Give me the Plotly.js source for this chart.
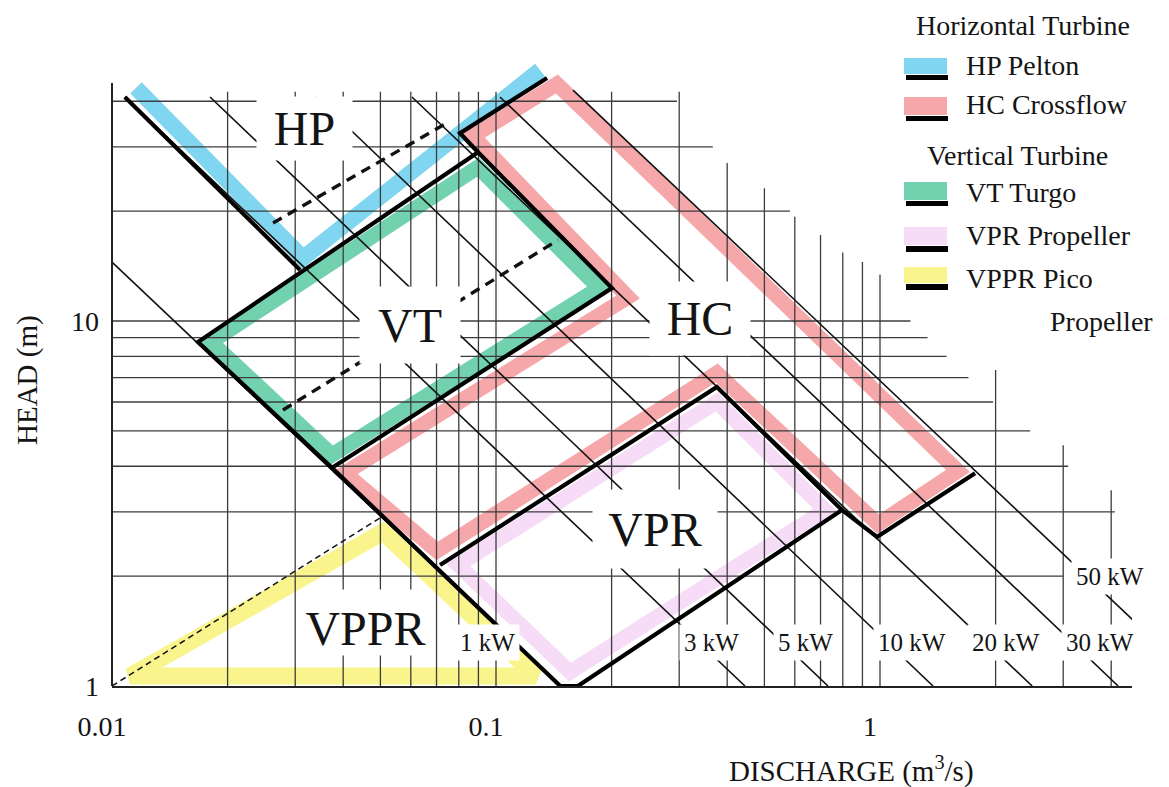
<!DOCTYPE html>
<html>
<head>
<meta charset="utf-8">
<script src="https://cdn.plot.ly/plotly-3.0.1.min.js"></script>
<style>
html,body{margin:0;padding:0;background:#fff;}
#chart{width:1169px;height:787px;}
</style>
</head>
<body>
<div id="chart"></div>
<script>
// ================= DATA =================
// Discharge Q in m3/s (x, log), head H in m (y, log)
const X_TICKS = [0.01, 0.1, 1];
const X_TICK_TEXT = ['0.01', '0.1', '1'];
const Y_TICKS = [1, 10];
const Y_TICK_TEXT = ['1', '10'];

// staircase grid: horizontal lines (head) and where each ends on the right
const GRID_H       = [2, 3, 4, 5, 6, 7, 8, 9, 10, 20, 30, 40];
const GRID_H_END_Q = [3.0, 4.09, 3.09, 2.46, 1.97, 1.70, 1.49, 1.33, 1.20, 0.583, 0.367, 0.296];
// vertical lines (discharge) and where each starts at the top
const GRID_Q       = [0.02, 0.03, 0.04, 0.05, 0.06, 0.07, 0.08, 0.09, 0.1, 0.2, 0.3, 0.4, 0.5, 0.6, 0.7, 0.8, 0.9, 1, 2, 3, 4];
const GRID_Q_TOP_H = [42.5, 42.5, 42.5, 42.5, 42.5, 42.5, 42.5, 42.5, 42.5, 42.5, 42.5, 27.1, 23.1, 19.3, 17.2, 15.4, 14.5, 13.4, 7.34, 4.57, 3.44];

// constant power lines
const POWER_KW      = [1, 3, 5, 10, 20, 30, 50];
const POWER_Q_START = [0.01, 0.0108, 0.018, 0.034, 0.0604, 0.1024, 0.1587];
const POWER_H_START = [14.5, 41.1, 41.1, 41.1, 41.1, 41.1, 42.9];
const POWER_Q_END   = [0.147, 0.445, 0.732, 1.374, 2.49, 4.17, 4.70];
const POWER_H_END   = [1, 1, 1, 1, 1, 1, 1.47];
const KW_LABEL_Q    = [0.0953, 0.365, 0.638, 1.212, 2.128, 3.74, 3.972];
const KW_LABEL_H    = [1.312, 1.312, 1.312, 1.312, 1.312, 1.312, 2.0];

// coloured bands (centre lines) of each turbine range
const HP_BAND_Q   = [0.01155, 0.03144, 0.1302];
const HP_BAND_H   = [43.5, 14.88, 48.7];
const VT_BAND_Q   = [0.01811, 0.0898, 0.1854, 0.0374];
const VT_BAND_H   = [8.76, 26.4, 12.31, 4.295];
const HC_BAND_Q   = [0.0404, 0.2207, 0.0871, 0.1441, 1.596, 0.988, 0.376, 0.0702];
const HC_BAND_H   = [3.833, 11.63, 32.1, 44.6, 3.882, 2.779, 7.203, 2.344];
const VPR_BAND_Q  = [0.0796, 0.376, 0.719, 0.1559];
const VPR_BAND_H  = [2.145, 6.00, 3.035, 1.092];
const VPPR_BAND_Q = [0.01114, 0.0508, 0.127];
const VPPR_BAND_H = [1.065, 2.642, 1.065];

// black boundary lines
const HP_EDGE_Q  = [0.0108, 0.0309];
const HP_EDGE_H  = [41.1, 13.8];
const VT_EDGE_Q  = [0.0374, 0.01675, 0.0898, 0.2004, 0.0374, 0.147];
const VT_EDGE_H  = [3.96, 8.76, 29.0, 12.31, 3.96, 1];
const HC_EDGE_Q  = [0.0898, 0.0806, 0.1358];
const HC_EDGE_H  = [29.0, 32.7, 46.3];
const HC_EDGE2_Q = [1.768, 0.982, 0.796, 0.376, 0.0715];
const HC_EDGE2_H = [3.83, 2.56, 3.035, 6.595, 2.145];
const VPR_EDGE_Q = [0.796, 0.1634, 0.147];
const VPR_EDGE_H = [3.035, 1, 1];

// dashed lines
const HP_DASH_Q   = [0.02626, 0.0745];
const HP_DASH_H   = [18.56, 34.9];
const VT_DASH_Q   = [0.02788, 0.145];
const VT_DASH_H   = [5.704, 16.67];
const VPPR_DASH_Q = [0.01, 0.0508];
const VPPR_DASH_H = [1, 2.923];

const AXIS_Q_MIN = 0.01, AXIS_H_MIN = 1;

// ================= STYLE / LAYOUT =================
const FONT = 'Liberation Serif, Times New Roman, serif';
const TXT = '#141414';
const C_HP = '#80d6f0', C_HC = '#f5a7a9', C_VT = '#72d1ae', C_VPR = '#f6dcf6', C_VPPR = '#f9f48c';
const W = 1169, H = 787, PL = 112, PR = 1132, PT = 55, PB = 686;
const pxX = x => (x - PL) / (PR - PL);
const pxY = y => (PB - y) / (PB - PT);
const L10 = Math.log10;

function closed(q, h) { return {x: q.concat([q[0], q[1]]), y: h.concat([h[0], h[1]])}; }
function band(q, h, color, width, close) {
  const p = close ? closed(q, h) : {x: q, y: h};
  return {type: 'scatter', mode: 'lines', x: p.x, y: p.y, hoverinfo: 'skip',
          line: {color: color, width: width}};
}
function segs(list) {
  const x = [], y = [];
  list.forEach(s => { x.push(...s[0], null); y.push(...s[1], null); });
  return {x, y};
}

const traces = [];
// bands
traces.push(band(HP_BAND_Q, HP_BAND_H, C_HP, 16, false));
traces.push(band(HC_BAND_Q, HC_BAND_H, C_HC, 15, true));
traces.push(band(VT_BAND_Q, VT_BAND_H, C_VT, 15, true));
traces.push(band(VPR_BAND_Q, VPR_BAND_H, C_VPR, 15, true));
traces.push(band(VPPR_BAND_Q, VPPR_BAND_H, C_VPPR, 17, true));

// grid
const gridSegs = [];
GRID_H.forEach((h, i) => gridSegs.push([[AXIS_Q_MIN, GRID_H_END_Q[i]], [h, h]]));
GRID_Q.forEach((q, i) => gridSegs.push([[q, q], [AXIS_H_MIN, GRID_Q_TOP_H[i]]]));
const g = segs(gridSegs);
traces.push({type: 'scatter', mode: 'lines', x: g.x, y: g.y, hoverinfo: 'skip',
             line: {color: '#3c3c3c', width: 1.3}});

// power lines
const powSegs = POWER_KW.map((kw, i) => [[POWER_Q_START[i], POWER_Q_END[i]], [POWER_H_START[i], POWER_H_END[i]]]);
const p = segs(powSegs);
traces.push({type: 'scatter', mode: 'lines', x: p.x, y: p.y, hoverinfo: 'skip',
             line: {color: '#111', width: 1.6}});

// dashed
const d = segs([[HP_DASH_Q, HP_DASH_H], [VT_DASH_Q, VT_DASH_H]]);
traces.push({type: 'scatter', mode: 'lines', x: d.x, y: d.y, hoverinfo: 'skip',
             line: {color: '#111', width: 3.4, dash: '10px,7px'}});
traces.push({type: 'scatter', mode: 'lines', x: VPPR_DASH_Q, y: VPPR_DASH_H, hoverinfo: 'skip',
             line: {color: '#111', width: 1.5, dash: '6px,4px'}});

// thick black edges
const t = segs([[HP_EDGE_Q, HP_EDGE_H], [VT_EDGE_Q, VT_EDGE_H], [HC_EDGE_Q, HC_EDGE_H],
                [HC_EDGE2_Q, HC_EDGE2_H], [VPR_EDGE_Q, VPR_EDGE_H]]);
traces.push({type: 'scatter', mode: 'lines', x: t.x, y: t.y, hoverinfo: 'skip',
             line: {color: '#000', width: 4.2}});

// ---------- annotations ----------
const ann = [];
const REGION_LABELS = [
  {text: 'HP',   q: 0.0317, h: 33.7,  w: 95,  hh: 63, ys: 0},
  {text: 'VT',   q: 0.0597, h: 9.75,  w: 100, hh: 76, ys: 2},
  {text: 'HC',   q: 0.34,   h: 10.19, w: 100, hh: 73, ys: 0},
  {text: 'VPR',  q: 0.2595, h: 2.692, w: 124, hh: 78, ys: 0},
  {text: 'VPPR', q: 0.0457, h: 1.493, w: 125, hh: 65, ys: 0}
];
REGION_LABELS.forEach(r => ann.push({
  xref: 'x', yref: 'y', x: L10(r.q), y: L10(r.h), text: r.text, showarrow: false,
  xanchor: 'center', yanchor: 'middle', width: r.w, height: r.hh, bgcolor: '#fff', borderpad: 0,
  valign: r.text === 'VPPR' ? 'bottom' : 'middle',
  font: {family: FONT, size: 48, color: TXT}
}));
POWER_KW.forEach((kw, i) => ann.push({
  xref: 'x', yref: 'y', x: L10(KW_LABEL_Q[i]), y: L10(KW_LABEL_H[i]), text: kw + ' kW', showarrow: false,
  xanchor: 'center', yanchor: 'middle', bgcolor: '#fff', borderpad: 4,
  font: {family: FONT, size: 25, color: TXT}
}));
// axis titles
ann.push({xref: 'paper', yref: 'paper', x: pxX(851), y: pxY(769), text: 'DISCHARGE (m<sup>3</sup>/s)',
  showarrow: false, xanchor: 'center', yanchor: 'middle', font: {family: FONT, size: 29, color: TXT}});
ann.push({xref: 'paper', yref: 'paper', x: pxX(27), y: pxY(380), text: 'HEAD (m)', textangle: -90,
  showarrow: false, xanchor: 'center', yanchor: 'middle', font: {family: FONT, size: 29, color: TXT}});

// legend
const shapes = [];
const LEGEND_HEADS = [
  {text: 'Horizontal Turbine', x: 1023, y: 26},
  {text: 'Vertical Turbine', x: 1017, y: 155}
];
const LEGEND_ITEMS = [
  {text: 'HP Pelton',     color: C_HP,   s0: 58,  s1: 74,  b1: 80,  ty: 66},
  {text: 'HC Crossflow',  color: C_HC,   s0: 97,  s1: 115, b1: 121, ty: 105},
  {text: 'VT Turgo',      color: C_VT,   s0: 182, s1: 200, b1: 206, ty: 192},
  {text: 'VPR Propeller', color: C_VPR,  s0: 227, s1: 245, b1: 252, ty: 236},
  {text: 'VPPR Pico',     color: C_VPPR, s0: 267, s1: 283, b1: 290, ty: 278}
];
LEGEND_HEADS.forEach(hd => ann.push({xref: 'paper', yref: 'paper', x: pxX(hd.x), y: pxY(hd.y), text: hd.text,
  showarrow: false, xanchor: 'center', yanchor: 'middle', font: {family: FONT, size: 28, color: TXT}}));
LEGEND_ITEMS.forEach(it => {
  shapes.push({type: 'rect', xref: 'paper', yref: 'paper', x0: pxX(904), x1: pxX(947), y0: pxY(it.s1), y1: pxY(it.s0),
               fillcolor: it.color, line: {width: 0}, layer: 'above'});
  shapes.push({type: 'rect', xref: 'paper', yref: 'paper', x0: pxX(906), x1: pxX(948), y0: pxY(it.b1), y1: pxY(it.s1 + 1),
               fillcolor: '#000', line: {width: 0}, layer: 'above'});
  ann.push({xref: 'paper', yref: 'paper', x: pxX(964), y: pxY(it.ty), text: it.text, showarrow: false,
            xanchor: 'left', yanchor: 'middle', font: {family: FONT, size: 28, color: TXT}});
});
ann.push({xref: 'paper', yref: 'paper', x: pxX(1048), y: pxY(321), text: 'Propeller', showarrow: false,
          xanchor: 'left', yanchor: 'middle', font: {family: FONT, size: 28, color: TXT}});

// left axis spine (stops at the top of the grid region)
shapes.push({type: 'line', xref: 'paper', yref: 'paper', x0: 0, x1: 0, y0: 0, y1: pxY(83),
             line: {color: '#222', width: 2}, layer: 'above'});

const layout = {
  width: W, height: H, autosize: false,
  margin: {l: PL, r: W - PR, t: PT, b: H - PB, pad: 0},
  paper_bgcolor: '#fff', plot_bgcolor: 'rgba(0,0,0,0)',
  showlegend: false, hovermode: false,
  xaxis: {type: 'log', range: [-2, 0.65625], showgrid: false, zeroline: false,
          showline: true, linecolor: '#222', linewidth: 2, ticks: '',
          tickmode: 'array', tickvals: X_TICKS, ticktext: X_TICK_TEXT,
          ticklabelstandoff: 14, ticklabelshift: -10,
          tickfont: {family: FONT, size: 28, color: TXT}, fixedrange: true},
  yaxis: {type: 'log', range: [0, 1.7288], showgrid: false, zeroline: false,
          showline: false, ticks: '',
          tickmode: 'array', tickvals: Y_TICKS, ticktext: Y_TICK_TEXT, ticklabelstandoff: 12,
          tickfont: {family: FONT, size: 28, color: TXT}, fixedrange: true},
  annotations: ann,
  shapes: shapes
};

Plotly.newPlot('chart', traces, layout, {displayModeBar: false, staticPlot: true});
</script>
</body>
</html>
